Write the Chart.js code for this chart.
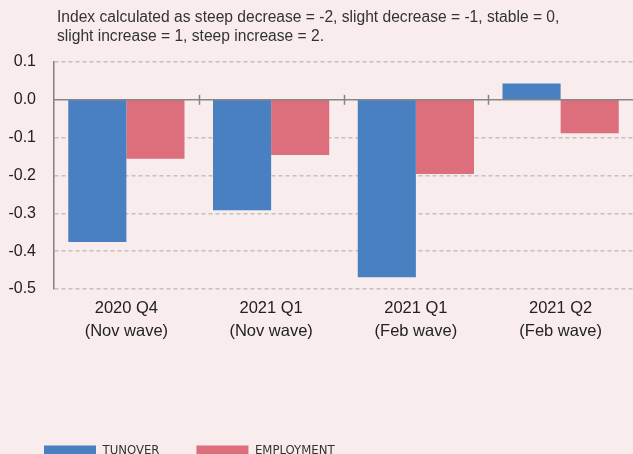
<!DOCTYPE html>
<html>
<head>
<meta charset="utf-8">
<script src="https://cdn.jsdelivr.net/npm/chart.js"></script>
<style>
  html, body { margin: 0; padding: 0; background: #f9ecec; overflow: hidden; }
  #wrap { width: 633px; height: 467px; }
</style>
</head>
<body>
<div id="wrap"><canvas id="myChart" width="633" height="467"></canvas></div>
<script>
// data
const categories = [
  ['2020 Q4', '(Nov wave)'],
  ['2021 Q1', '(Nov wave)'],
  ['2021 Q1', '(Feb wave)'],
  ['2021 Q2', '(Feb wave)']
];
const turnover = [-0.376, -0.292, -0.469, 0.043];
const employment = [-0.156, -0.146, -0.196, -0.088];
const seriesNames = ['TUNOVER', 'EMPLOYMENT'];
const noteLines = [
  'Index calculated as steep decrease = -2, slight decrease = -1, stable = 0,',
  'slight increase = 1, steep increase = 2.'
];

const BLUE = '#4880c1';
const RED = '#dd6e7c';

// note text above the plot, zero line and the small category separators
const extras = {
  id: 'extras',
  afterDatasetsDraw(chart) {
    const { ctx, chartArea: { left, right }, scales: { x, y } } = chart;
    const y0 = y.getPixelForValue(0);
    ctx.save();
    ctx.strokeStyle = '#868686';
    ctx.lineWidth = 1.5;
    ctx.beginPath();
    ctx.moveTo(left, y0);
    ctx.lineTo(right, y0);
    ctx.stroke();

    const step = (right - left) / categories.length;
    for (let i = 1; i < categories.length; i++) {
      const sx = Math.round(left + step * i) + 0.5;
      ctx.beginPath();
      ctx.moveTo(sx, y0 - 5);
      ctx.lineTo(sx, y0 + 5);
      ctx.stroke();
    }
    ctx.restore();
  },
  afterDraw(chart) {
    const { ctx } = chart;
    ctx.save();
    ctx.fillStyle = '#333';
    ctx.font = '15.6px "Liberation Sans", Arial, sans-serif';
    ctx.textBaseline = 'middle';
    noteLines.forEach((t, i) => ctx.fillText(t, 57, 18 + i * 19));
    ctx.restore();
  }
};

const config = {
  type: 'bar',
  data: {
    labels: categories,
    datasets: [
      { label: seriesNames[0], data: turnover, backgroundColor: BLUE },
      { label: seriesNames[1], data: employment, backgroundColor: RED }
    ]
  },
  options: {
    responsive: false,
    animation: false,
    layout: { padding: { top: 62, left: 7, right: 0, bottom: 0 } },
    datasets: {
      bar: { categoryPercentage: 0.803, barPercentage: 1.0 }
    },
    scales: {
      x: {
        grid: { display: false },
        border: { display: false },
        ticks: {
          color: '#222',
          padding: 0,
          font: { family: '"Liberation Sans", Arial, sans-serif', size: 16.5, lineHeight: 1.4 },
          maxRotation: 0
        },
        afterFit(scale) { scale.height = 118; }
      },
      y: {
        min: -0.5,
        max: 0.1,
        afterFit(scale) { scale.width = 47; },
        border: { display: true, color: '#808080', width: 1.5,
          dash: (c) => (c.tick ? [4, 3] : []) },
        grid: {
          drawTicks: false,
          lineWidth: 1.5,
          color: (c) => (c.tick && Math.abs(c.tick.value) < 1e-9 ? 'rgba(0,0,0,0)' : '#c4c0c0')
        },
        ticks: {
          stepSize: 0.1,
          padding: 18,
          color: '#222',
          font: { family: '"Liberation Sans", Arial, sans-serif', size: 16 },
          callback: (v) => (Math.abs(v) < 1e-9 ? 0 : v).toFixed(1)
        }
      }
    },
    plugins: {
      legend: {
        position: 'bottom',
        align: 'start',
        labels: {
          boxWidth: 52,
          boxHeight: 10,
          padding: 37,
          color: '#333',
          font: { family: '"DejaVu Sans Condensed", "Liberation Sans Narrow", "Liberation Sans", sans-serif', size: 13 }
        }
      },
      tooltip: { enabled: false },
      title: { display: false }
    }
  },
  plugins: [extras]
};

const myChart = new Chart(document.getElementById('myChart'), config);
</script>
</body>
</html>
